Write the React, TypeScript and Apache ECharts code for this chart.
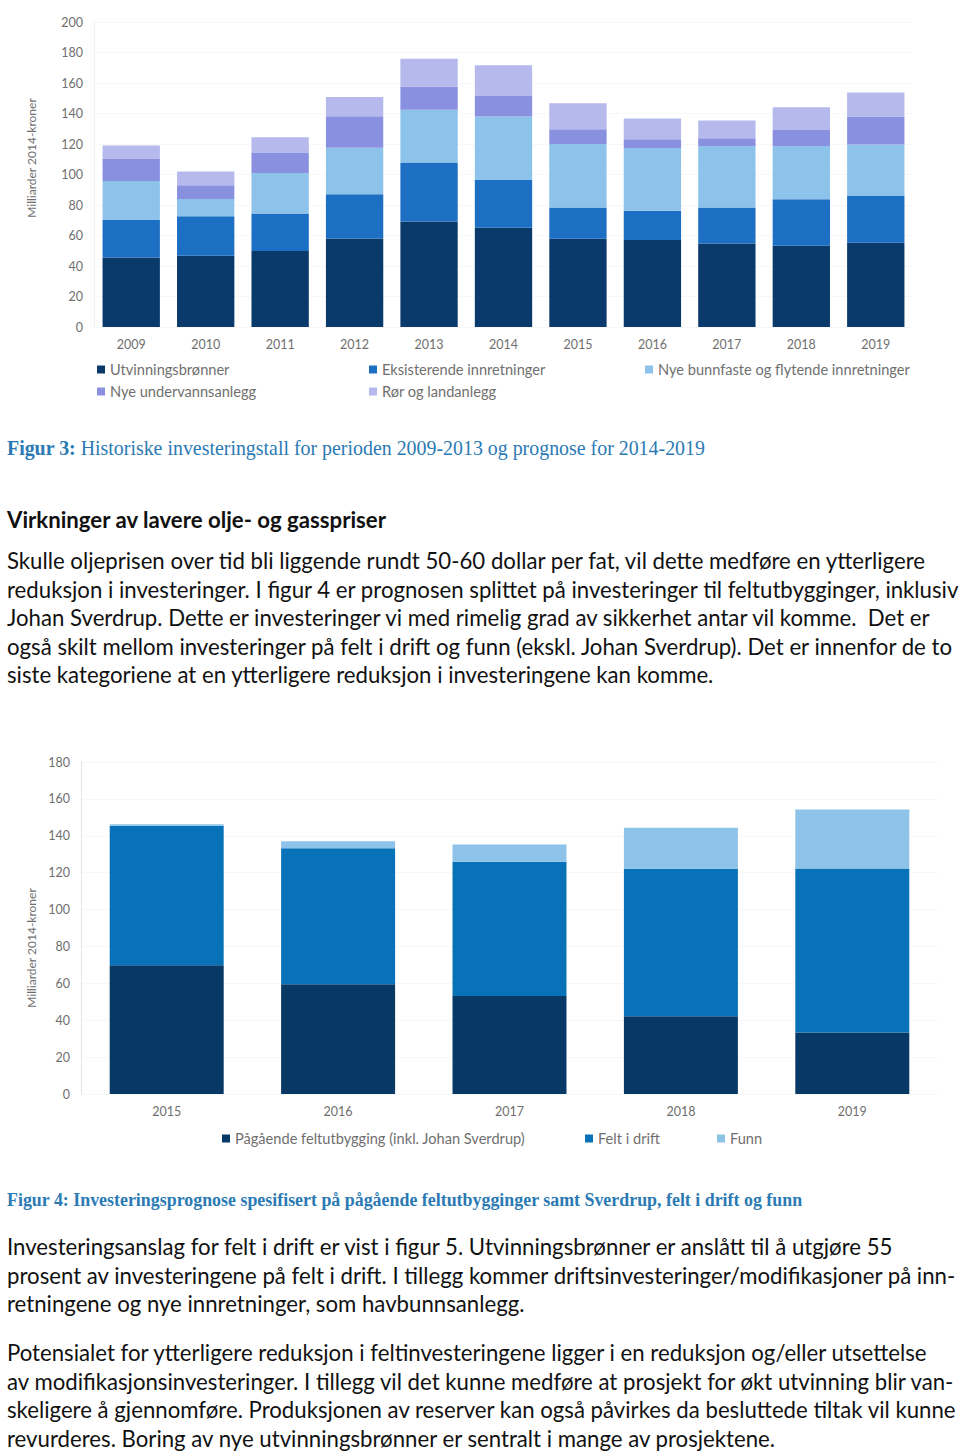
import React, { useEffect, useRef } from "react";
import * as echarts from "echarts";

// ---------- Data: Figur 3 ----------
const years1 = ["2009", "2010", "2011", "2012", "2013", "2014", "2015", "2016", "2017", "2018", "2019"];
const utvinningsbronner = [45.6, 46.7, 49.9, 58.0, 69.2, 65.1, 57.8, 57.0, 54.8, 53.2, 55.2];
const eksisterende = [24.5, 26.0, 24.6, 29.0, 38.6, 31.3, 20.6, 19.2, 23.6, 30.5, 31.1];
const nyeBunnfaste = [25.6, 11.2, 26.5, 30.6, 34.6, 41.6, 41.6, 41.2, 40.3, 35.0, 33.3];
const nyeUndervann = [14.5, 9.0, 13.1, 20.6, 15.1, 13.4, 9.7, 5.7, 5.1, 10.5, 18.4];
const rorLandanlegg = [8.8, 9.0, 10.3, 12.7, 18.4, 20.3, 17.1, 13.6, 11.6, 14.9, 15.8];
const seriesNames1 = [
  "Utvinningsbrønner",
  "Eksisterende innretninger",
  "Nye bunnfaste og flytende innretninger",
  "Nye undervannsanlegg",
  "Rør og landanlegg",
];
const yTicks1 = { min: 0, max: 200, interval: 20 };

// ---------- Data: Figur 4 ----------
const years2 = ["2015", "2016", "2017", "2018", "2019"];
const pagaende = [69.8, 59.5, 53.2, 42.2, 33.4];
const feltIDrift = [75.6, 73.8, 72.7, 79.9, 88.9];
const funn = [0.9, 3.8, 9.4, 22.2, 31.9];
const seriesNames2 = ["Pågående feltutbygging (inkl. Johan Sverdrup)", "Felt i drift", "Funn"];
const yTicks2 = { min: 0, max: 180, interval: 20 };

const axisName = "Milliarder 2014-kroner";

const colors1 = ["#0a3a6b", "#1c6fc2", "#8dc3ea", "#8a90e0", "#b5b9ec"];
const colors2 = ["#073866", "#0872b8", "#8dc3e8"];

const FONT = "Lato, 'Open Sans', sans-serif";
const GREY = "#6f6f6f";

function useChart(build: () => any) {
  const ref = useRef<HTMLDivElement>(null);
  useEffect(() => {
    if (!ref.current) return;
    const chart = echarts.init(ref.current, undefined, { renderer: "svg" });
    chart.setOption(build());
    return () => chart.dispose();
  }, []);
  return ref;
}

function legendItem(name: string, left: number, top: number) {
  return {
    data: [name],
    left,
    top,
    padding: 0,
    icon: "rect",
    itemWidth: 8,
    itemHeight: 8,
    itemGap: 6,
    textStyle: { color: GREY, fontSize: 14.6, fontFamily: FONT },
  };
}

function option1() {
  const data = [utvinningsbronner, eksisterende, nyeBunnfaste, nyeUndervann, rorLandanlegg];
  return {
    animation: false,
    backgroundColor: "#ffffff",
    color: colors1,
    grid: { left: 94, right: 47, top: 22, bottom: 83 },
    legend: [
      legendItem(seriesNames1[0], 97, 362),
      legendItem(seriesNames1[3], 97, 384),
      legendItem(seriesNames1[1], 369, 362),
      legendItem(seriesNames1[4], 369, 384),
      legendItem(seriesNames1[2], 645, 362),
    ],
    xAxis: {
      type: "category",
      data: years1,
      axisLine: { show: false },
      axisTick: { show: false },
      axisLabel: { color: GREY, fontSize: 12.5, fontFamily: FONT, margin: 11 },
    },
    yAxis: {
      type: "value",
      min: yTicks1.min,
      max: yTicks1.max,
      interval: yTicks1.interval,
      name: axisName,
      nameLocation: "middle",
      nameGap: 57,
      nameTextStyle: { color: GREY, fontSize: 12, fontFamily: FONT, padding: [0, 0, 0, 33] },
      axisLine: { show: true, lineStyle: { color: "#f0f0f0" } },
      axisTick: { show: false },
      splitLine: { show: true, lineStyle: { color: "#f7f7f7" } },
      axisLabel: { color: GREY, fontSize: 12.5, fontFamily: FONT, margin: 11 },
    },
    series: data.map((d, i) => ({
      name: seriesNames1[i],
      type: "bar",
      stack: "total",
      data: d,
      barCategoryGap: "23%",
      itemStyle: { color: colors1[i] },
    })),
  };
}

function option2() {
  const data = [pagaende, feltIDrift, funn];
  return {
    animation: false,
    backgroundColor: "#ffffff",
    color: colors2,
    grid: { left: 81, right: 22, top: 22, bottom: 66 },
    legend: [
      legendItem(seriesNames2[0], 222, 391),
      legendItem(seriesNames2[1], 585, 391),
      legendItem(seriesNames2[2], 717, 391),
    ],
    xAxis: {
      type: "category",
      data: years2,
      axisLine: { show: false },
      axisTick: { show: false },
      axisLabel: { color: GREY, fontSize: 12.5, fontFamily: FONT, margin: 11 },
    },
    yAxis: {
      type: "value",
      min: yTicks2.min,
      max: yTicks2.max,
      interval: yTicks2.interval,
      name: axisName,
      nameLocation: "middle",
      nameGap: 44,
      nameTextStyle: { color: GREY, fontSize: 12, fontFamily: FONT, padding: [0, 40, 0, 0] },
      axisLine: { show: true, lineStyle: { color: "#e4e4e4" } },
      axisTick: { show: false },
      splitLine: { show: true, lineStyle: { color: "#f7f7f7" } },
      axisLabel: { color: GREY, fontSize: 12.5, fontFamily: FONT, margin: 11 },
    },
    series: data.map((d, i) => ({
      name: seriesNames2[i],
      type: "bar",
      stack: "total",
      data: d,
      barCategoryGap: "33.5%",
      itemStyle: { color: colors2[i] },
    })),
  };
}

const para1 = [
  "Skulle oljeprisen over tid bli liggende rundt 50-60 dollar per fat, vil dette medføre en ytterligere",
  "reduksjon i investeringer. I figur 4 er prognosen splittet på investeringer til feltutbygginger, inklusiv",
  "Johan Sverdrup. Dette er investeringer vi med rimelig grad av sikkerhet antar vil komme.  Det er",
  "også skilt mellom investeringer på felt i drift og funn (ekskl. Johan Sverdrup). Det er innenfor de to",
  "siste kategoriene at en ytterligere reduksjon i investeringene kan komme.",
];
const para2 = [
  "Investeringsanslag for felt i drift er vist i figur 5. Utvinningsbrønner er anslått til å utgjøre 55",
  "prosent av investeringene på felt i drift. I tillegg kommer driftsinvesteringer/modifikasjoner på inn-",
  "retningene og nye innretninger, som havbunnsanlegg.",
];
const para3 = [
  "Potensialet for ytterligere reduksjon i feltinvesteringene ligger i en reduksjon og/eller utsettelse",
  "av modifikasjonsinvesteringer. I tillegg vil det kunne medføre at prosjekt for økt utvinning blir van-",
  "skeligere å gjennomføre. Produksjonen av reserver kan også påvirkes da besluttede tiltak vil kunne",
  "revurderes. Boring av nye utvinningsbrønner er sentralt i mange av prosjektene.",
];

const LINE_H = 28.6;
const BODY_FS = 22.2;

function Lines({ lines, top }: { lines: string[]; top: number }) {
  return (
    <>
      {lines.map((l, i) => (
        <div
          key={i}
          style={{
            position: "absolute",
            left: 7,
            top: top + i * LINE_H - 14,
            height: 28,
            lineHeight: "28px",
            fontFamily: FONT,
            fontSize: BODY_FS,
            color: "#111",
            whiteSpace: "pre",
          }}
        >
          {l}
        </div>
      ))}
    </>
  );
}

export default function App() {
  const ref1 = useChart(option1);
  const ref2 = useChart(option2);
  const captionColor = "#2b7ab4";
  return (
    <div
      style={{
        position: "absolute",
        left: 0,
        top: 0,
        width: 960,
        height: 1453,
        background: "#ffffff",
        overflow: "hidden",
      }}
    >
      <div ref={ref1} style={{ position: "absolute", left: 0, top: 0, width: 960, height: 410 }} />
      <div
        style={{
          position: "absolute",
          left: 7,
          top: 436,
          fontFamily: "'Liberation Serif', 'Times New Roman', serif",
          fontSize: 19.9,
          color: captionColor,
          whiteSpace: "pre",
          lineHeight: "24px",
        }}
      >
        <b>Figur 3:</b> Historiske investeringstall for perioden 2009-2013 og prognose for 2014-2019
      </div>
      <div
        style={{
          position: "absolute",
          left: 7,
          top: 506,
          fontFamily: FONT,
          fontSize: BODY_FS,
          fontWeight: 700,
          color: "#111",
          whiteSpace: "pre",
          lineHeight: "28px",
        }}
      >
        Virkninger av lavere olje- og gasspriser
      </div>
      <Lines lines={para1} top={561} />
      <div ref={ref2} style={{ position: "absolute", left: 0, top: 740, width: 960, height: 420 }} />
      <div
        style={{
          position: "absolute",
          left: 7,
          top: 1189,
          fontFamily: "'Liberation Serif', 'Times New Roman', serif",
          fontSize: 17.9,
          fontWeight: 700,
          color: captionColor,
          whiteSpace: "pre",
          lineHeight: "22px",
        }}
      >
        Figur 4: Investeringsprognose spesifisert på pågående feltutbygginger samt Sverdrup, felt i drift og funn
      </div>
      <Lines lines={para2} top={1247} />
      <Lines lines={para3} top={1353} />
    </div>
  );
}
